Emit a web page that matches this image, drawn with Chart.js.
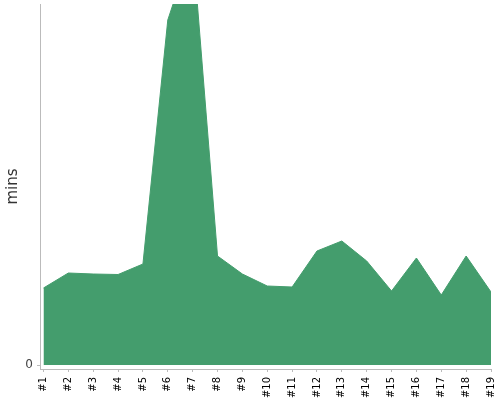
<!DOCTYPE html>
<html>
<head>
<meta charset="utf-8">
<script src="https://cdn.jsdelivr.net/npm/chart.js@4"></script>
<style>
  html, body { margin: 0; padding: 0; background: #fff; }
  #wrap { width: 500px; height: 400px; }
</style>
</head>
<body>
<div id="wrap"><canvas id="runChart" width="500" height="400"></canvas></div>
<script>
// categories along the bottom
const runs = ['#1', '#2', '#3', '#4', '#5', '#6', '#7', '#8', '#9', '#10',
              '#11', '#12', '#13', '#14', '#15', '#16', '#17', '#18', '#19'];
// minutes per run (#7 goes past the top)
const mins = [7.7, 9.2, 9.1, 9.05, 10.1, 34.5, 42, 10.9, 9.1, 7.9,
              7.8, 11.4, 12.4, 10.4, 7.4, 10.7, 7.0, 10.9, 7.3];
// only the zero tick is labelled
const yTicks = [0];

const green = '#449d6d';

const runCtx = document.getElementById('runChart').getContext('2d');
const runChart = new Chart(runCtx, {
    type: 'line',
    data: {
        datasets: [{
            label: 'mins',
            data: mins.map((v, i) => ({ x: i, y: v })),
            borderColor: green,
            backgroundColor: green,
            borderWidth: 1,
            pointRadius: 0,
            tension: 0,
            fill: 'origin'
        }]
    },
    options: {
        responsive: false,
        devicePixelRatio: 1,
        animation: false,
        layout: {
            padding: { top: 4, right: 9, left: 0, bottom: 0 }
        },
        plugins: {
            legend: { display: false },
            tooltip: { enabled: false }
        },
        scales: {
            x: {
                type: 'linear',
                min: -0.14,
                max: runs.length - 1,
                afterBuildTicks: scale => {
                    scale.ticks = runs.map((r, i) => ({ value: i }));
                },
                afterFit: scale => {
                    scale.height = 31;
                    scale.paddingLeft = 0;
                    scale.paddingRight = 0;
                },
                ticks: {
                    autoSkip: false,
                    minRotation: 90,
                    maxRotation: 90,
                    padding: 5,
                    color: '#000',
                    font: { family: 'DejaVu Sans', size: 10 },
                    callback: value => runs[value]
                },
                grid: {
                    drawOnChartArea: false,
                    drawTicks: true,
                    tickLength: 3,
                    color: '#bbb'
                },
                border: { color: '#bbb' }
            },
            y: {
                min: -0.4,
                max: 36.1,
                afterBuildTicks: scale => {
                    scale.ticks = yTicks.map(v => ({ value: v }));
                },
                afterFit: scale => {
                    scale.width = 40;
                    scale.paddingTop = 0;
                    scale.paddingBottom = 0;
                },
                ticks: {
                    padding: 4,
                    color: '#444',
                    font: { family: 'DejaVu Sans', size: 12 }
                },
                grid: {
                    drawOnChartArea: false,
                    drawTicks: true,
                    tickLength: 3,
                    color: '#bbb'
                },
                border: { color: '#bbb' },
                title: {
                    display: true,
                    text: 'mins',
                    color: '#333',
                    padding: { top: 4, bottom: 0 },
                    font: { family: 'DejaVu Sans', size: 15 }
                }
            }
        }
    }
});
</script>
</body>
</html>
